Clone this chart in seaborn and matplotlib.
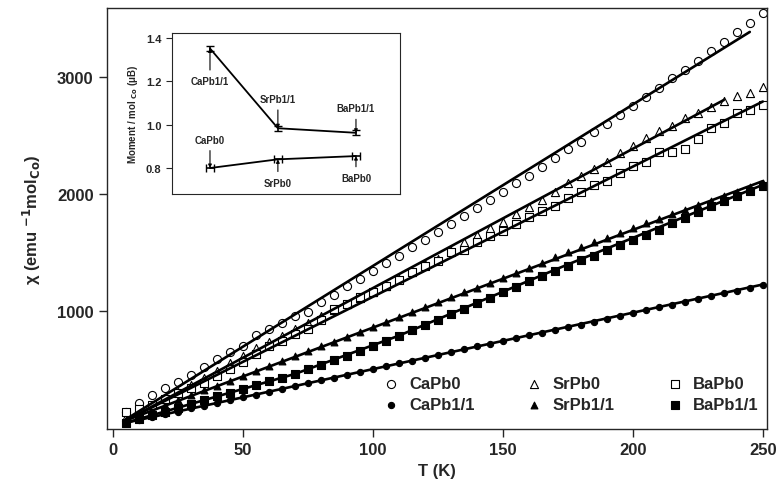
import matplotlib
matplotlib.use('Agg')
import pandas as pd
import matplotlib.pyplot as plt
import seaborn as sns

# Temperature grid (K)
temps = [5, 10, 15, 20, 25, 30, 35, 40, 45, 50, 55, 60, 65, 70, 75, 80, 85, 90, 95, 100,
         105, 110, 115, 120, 125, 130, 135, 140, 145, 150, 155, 160, 165, 170, 175, 180, 185, 190, 195, 200,
         205, 210, 215, 220, 225, 230, 235, 240, 245, 250]

# inverse susceptibility
ca_pb0 = [137, 211, 282, 339, 390, 453, 521, 590, 650, 698, 795, 846, 895, 960, 989, 1074, 1140, 1211, 1274, 1339,
          1407, 1473, 1544, 1607, 1678, 1744, 1815, 1877, 1949, 2020, 2091, 2157, 2232, 2305, 2385, 2447, 2527, 2598, 2675, 2755,
          2826, 2903, 2991, 3063, 3140, 3225, 3296, 3382, 3462, 3547]
ca_pb11 = [45, 70, 92, 118, 140, 167, 189, 215, 237, 263, 285, 311, 333, 359, 381, 407, 430, 456, 478, 503,
           526, 552, 574, 600, 622, 648, 671, 697, 719, 745, 767, 792, 812, 838, 860, 883, 909, 932, 955, 983,
           1009, 1031, 1051, 1074, 1103, 1125, 1151, 1167, 1197, 1222]
sr_pb0 = [95, 140, 195, 250, 305, 365, 425, 490, 555, 618, 680, 735, 790, 845, 900, 955, 1010, 1062, 1110, 1159,
          1216, 1274, 1336, 1402, 1444, 1515, 1587, 1650, 1706, 1758, 1829, 1891, 1951, 2020, 2094, 2157, 2214, 2276, 2348, 2413,
          2479, 2541, 2584, 2652, 2692, 2746, 2798, 2840, 2863, 2912]
sr_pb11 = [70, 110, 150, 195, 235, 278, 320, 360, 402, 445, 487, 528, 570, 612, 655, 697, 738, 780, 822, 864,
           906, 948, 990, 1032, 1074, 1116, 1158, 1200, 1242, 1284, 1326, 1368, 1410, 1459, 1501, 1544, 1586, 1621, 1667, 1706,
           1752, 1786, 1829, 1866, 1906, 1943, 1986, 2014, 2057, 2094]
ba_pb0 = [134, 160, 200, 250, 295, 339, 385, 447, 504, 567, 632, 703, 746, 803, 846, 926, 1017, 1060, 1117, 1159,
          1211, 1268, 1331, 1382, 1430, 1507, 1524, 1587, 1638, 1686, 1744, 1801, 1857, 1900, 1963, 2020, 2080, 2114, 2177, 2243,
          2270, 2356, 2362, 2385, 2470, 2561, 2607, 2689, 2721, 2761]
ba_pb11 = [45, 75, 108, 140, 172, 205, 237, 270, 302, 333, 365, 397, 430, 462, 500, 538, 578, 618, 660, 703,
           746, 789, 834, 879, 925, 971, 1018, 1065, 1112, 1160, 1207, 1255, 1300, 1345, 1387, 1436, 1473, 1521, 1564, 1609,
           1650, 1695, 1748, 1795, 1843, 1900, 1943, 1986, 2029, 2071]

# fitted curves (knots)
fit_ca_pb0_t = [5, 245]
fit_ca_pb0_y = [75, 3385]
fit_sr_pb0_t = [5, 235]
fit_sr_pb0_y = [65, 2803]
fit_ba_pb0_t = [5, 250]
fit_ba_pb0_y = [65, 2790]
fit_sr_pb11_t = [5, 250]
fit_sr_pb11_y = [65, 2110]
fit_ba_pb11_t = [5, 70, 110, 170, 250]
fit_ba_pb11_y = [45, 462, 789, 1352, 2078]
fit_ca_pb11_t = [5, 250]
fit_ca_pb11_y = [45, 1226]

# inset: moment per mol Co
inset_x = [1.0, 2.0, 3.15]
moment_pb11 = [1.35, 0.983, 0.962]
moment_pb0 = [0.80, 0.84, 0.855]
names_pb11 = ['CaPb1/1', 'SrPb1/1', 'BaPb1/1']
names_pb0 = ['CaPb0', 'SrPb0', 'BaPb0']

sns.set_style('ticks')
plt.rcParams['font.family'] = ['Liberation Sans', 'DejaVu Sans']
plt.rcParams['font.weight'] = 'bold'
plt.rcParams['mathtext.default'] = 'regular'

fig = plt.figure(figsize=(7.76, 4.89), dpi=100)
ax = fig.add_axes([0.1375, 0.1207, 0.8505, 0.8603])

series = [
    ('CaPb0', ca_pb0, 'o', 'white', 34),
    ('CaPb1/1', ca_pb11, 'o', 'black', 20),
    ('SrPb0', sr_pb0, '^', 'white', 34),
    ('SrPb1/1', sr_pb11, '^', 'black', 24),
    ('BaPb0', ba_pb0, 's', 'white', 30),
    ('BaPb1/1', ba_pb11, 's', 'black', 26),
]
for name, vals, mk, fc, s in series:
    df = pd.DataFrame({'T': temps, 'chi': vals})
    sns.scatterplot(data=df, x='T', y='chi', marker=mk, s=s, color=fc,
                    edgecolor='black', linewidth=0.8, label=name, ax=ax, zorder=2)

fits = [(fit_ca_pb0_t, fit_ca_pb0_y), (fit_sr_pb0_t, fit_sr_pb0_y), (fit_ba_pb0_t, fit_ba_pb0_y),
        (fit_sr_pb11_t, fit_sr_pb11_y), (fit_ba_pb11_t, fit_ba_pb11_y), (fit_ca_pb11_t, fit_ca_pb11_y)]
for ft, fy in fits:
    sns.lineplot(x=ft, y=fy, color='black', linewidth=1.9, ax=ax, zorder=3, legend=False)

ax.set_xlim(-2.5, 251.5)
ax.set_ylim(-9, 3587)
ax.set_xticks([0, 50, 100, 150, 200, 250])
ax.set_yticks([1000, 2000, 3000])
ax.tick_params(labelsize=12, length=6, width=1, direction='out')
for lab in ax.get_xticklabels() + ax.get_yticklabels():
    lab.set_fontweight('bold')
ax.set_xlabel('T (K)', fontsize=12, fontweight='bold')
ax.set_ylabel(r'$\chi$ (emu $^{\mathbf{-1}}$mol$_{\mathbf{Co}}$)', fontsize=12, fontweight='bold', labelpad=10)
for sp in ax.spines.values():
    sp.set_linewidth(1.0)

ax.legend(loc='lower left', bbox_to_anchor=(0.405, 0.02), ncol=3, frameon=False,
          handlelength=1.0, handletextpad=0.6, columnspacing=3.1,
          labelspacing=0.35, borderpad=0, prop={'weight': 'bold', 'size': 12})

# inset
axin = fig.add_axes([0.2216, 0.601, 0.294, 0.329])
sns.lineplot(x=inset_x, y=moment_pb11, color='black', linewidth=1.3, ax=axin)
sns.lineplot(x=inset_x, y=moment_pb0, color='black', linewidth=1.3, ax=axin)
axin.errorbar(inset_x, moment_pb11, yerr=0.012, fmt='none', ecolor='black', capsize=3, elinewidth=1.2)
axin.errorbar(inset_x, moment_pb0, xerr=0.06, fmt='none', ecolor='black', capsize=3, elinewidth=1.2)
axin.set_xlim(0.44, 3.80)
axin.set_ylim(0.68, 1.42)
axin.set_xticks([])
axin.set_yticks([0.8, 1.0, 1.2, 1.4])
axin.set_yticklabels(['0.8', '1.0', '1.2', '1.4'], fontsize=8, fontweight='bold')
axin.tick_params(axis='y', length=4, width=0.8, direction='out')
axin.set_ylabel(r'Moment / mol $_{\mathbf{Co}}$ ($\mu$B)', fontsize=7, fontweight='bold', labelpad=4)

label_pos_11 = [1.20, 1.118, 1.075]
label_pos_0 = [0.931, 0.733, 0.755]
for xi, yi, ly, nm in zip(inset_x, moment_pb11, label_pos_11, names_pb11):
    axin.annotate(nm, xy=(xi, yi), xytext=(xi, ly), ha='center', va='center',
                  fontsize=7, fontweight='bold',
                  arrowprops=dict(arrowstyle='-|>', color='black', lw=0.8, mutation_scale=5, shrinkA=2, shrinkB=0))
for xi, yi, ly, nm in zip(inset_x, moment_pb0, label_pos_0, names_pb0):
    axin.annotate(nm, xy=(xi, yi), xytext=(xi, ly), ha='center', va='center',
                  fontsize=7, fontweight='bold',
                  arrowprops=dict(arrowstyle='-|>', color='black', lw=0.8, mutation_scale=5, shrinkA=2, shrinkB=0))

fig.savefig('out.png', dpi=100)
